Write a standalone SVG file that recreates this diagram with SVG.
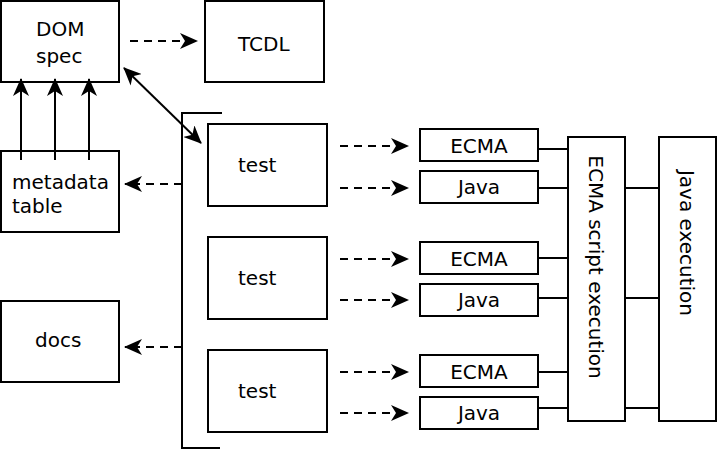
<svg xmlns="http://www.w3.org/2000/svg" width="717" height="451" viewBox="0 0 717 451">
<style>
rect{fill:#fff;stroke:#000;stroke-width:2}
text{font-family:"DejaVu Sans",sans-serif;font-size:20px;fill:#000}
.l{stroke:#000;stroke-width:2;fill:none}
.d{stroke-dasharray:8,6}
</style>
<defs><marker id="b" markerWidth="18" markerHeight="16" refX="17" refY="8" orient="auto-start-reverse" markerUnits="userSpaceOnUse"><path d="M0,0L18,8L0,16L5,8z"/></marker></defs>
<rect fill="#fff" style="stroke:none" width="717" height="451"/>
<g id="dom"><rect x="1" y="1" width="118" height="81"/><text x="36" y="36">DOM</text><text x="36" y="63">spec</text></g>
<g id="tcdl"><rect x="205" y="1" width="119" height="81"/><text x="238" y="51">TCDL</text></g>
<g id="meta"><rect x="1" y="151" width="118" height="81"/><text x="12" y="189">metadata</text><text x="12" y="213">table</text></g>
<g id="docs"><rect x="1" y="301" width="118" height="81"/><text x="35" y="347">docs</text></g>
<g id="test1"><rect x="208" y="124" width="119" height="82"/><text x="238" y="172">test</text></g>
<g id="test2"><rect x="208" y="237" width="119" height="82"/><text x="238" y="285">test</text></g>
<g id="test3"><rect x="208" y="350" width="119" height="82"/><text x="238" y="398">test</text></g>
<g id="e1"><rect x="420" y="129" width="118" height="32"/><text x="479" y="153" text-anchor="middle">ECMA</text></g>
<g id="j1"><rect x="420" y="171" width="118" height="32"/><text x="479" y="194" text-anchor="middle">Java</text></g>
<g id="e2"><rect x="420" y="242" width="118" height="32"/><text x="479" y="266" text-anchor="middle">ECMA</text></g>
<g id="j2"><rect x="420" y="284" width="118" height="32"/><text x="479" y="307" text-anchor="middle">Java</text></g>
<g id="e3"><rect x="420" y="355" width="118" height="32"/><text x="479" y="379" text-anchor="middle">ECMA</text></g>
<g id="j3"><rect x="420" y="397" width="118" height="32"/><text x="479" y="420" text-anchor="middle">Java</text></g>
<g id="ecmaexec"><rect x="568" y="137" width="57" height="284"/><text transform="translate(589,267) rotate(90)" text-anchor="middle">ECMA script execution</text></g>
<g id="javaexec"><rect x="659" y="137" width="57" height="284"/><text transform="translate(680,243) rotate(90)" text-anchor="middle">Java execution</text></g>
<g id="connectors">
<path class="l" d="M222,113H182V448H220"/>
<path class="l d" marker-end="url(#b)" d="M130,41H197"/>
<path class="l d" marker-end="url(#b)" d="M182,184H125"/>
<path class="l d" marker-end="url(#b)" d="M182,347H125"/>
<path class="l" marker-end="url(#b)" d="M21,160V79"/>
<path class="l" marker-end="url(#b)" d="M55,160V79"/>
<path class="l" marker-end="url(#b)" d="M89,160V79"/>
<path class="l" marker-start="url(#b)" marker-end="url(#b)" d="M124,68L201,143"/>
<path class="l d" marker-end="url(#b)" d="M340,146H408"/>
<path class="l d" marker-end="url(#b)" d="M340,188H408"/>
<path class="l d" marker-end="url(#b)" d="M340,259H408"/>
<path class="l d" marker-end="url(#b)" d="M340,300H408"/>
<path class="l d" marker-end="url(#b)" d="M340,372H408"/>
<path class="l d" marker-end="url(#b)" d="M340,413H408"/>
<path class="l" d="M538,149H568M538,188H568M538,258H568M538,298H568M538,372H568M538,408H568M625,188H659M625,298H659M625,408H659"/>
</g>
</svg>
